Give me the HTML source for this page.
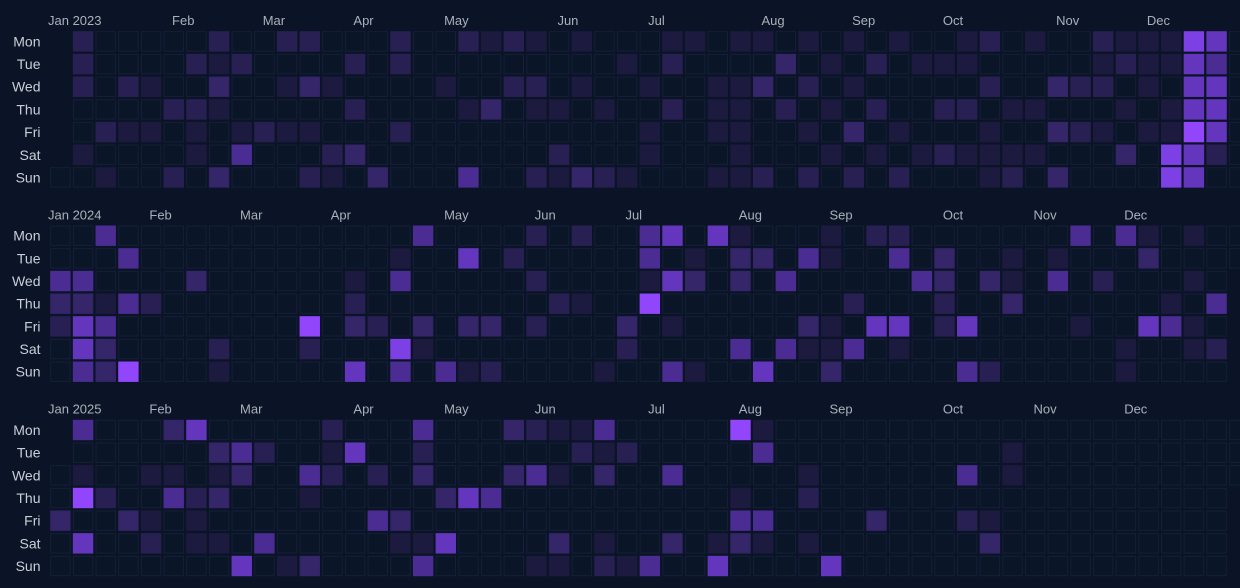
<!DOCTYPE html>
<html><head><meta charset="utf-8">
<style>
html,body{margin:0;padding:0;background:#0b1427;}
svg{display:block;}
text{font-family:"Liberation Sans",sans-serif;}
</style></head>
<body>
<svg id="chart" width="1240" height="588" viewBox="0 0 1240 588" xmlns="http://www.w3.org/2000/svg">
<rect x="0" y="0" width="1240" height="588" fill="#0b1427"/>
</svg>
<script>
const years = [2023, 2024, 2025];
const dayLabels = ["Mon","Tue","Wed","Thu","Fri","Sat","Sun"];
const monthLabels = ["Jan","Feb","Mar","Apr","May","Jun","Jul","Aug","Sep","Oct","Nov","Dec"];
// activity levels per weekday row (Mon..Sun), one digit per week column
const levels2023 = [
"02000002002200020021210100011011010101001201002111650",
"02000021200002020000000001020000301020111000001211540",
"02021003001310000100220100100113020100000200322010550",
"00000221000002000013011010020110201020022011000101550",
"00211010121100020000000000100110010301000100321011750",
"01000010400023000000002000100010001010121111000306520",
"00100203000210300040021321000112020202000120300006500"
];
const levels2024 = [
"00400000000000004000020200450510001022000000040410100",
"00040000000000010050200000401033041004030010100030000",
"44000030000001040000020000153030400000430310402000100",
"33142000000002000000002100700000000200020030000001040",
"25400000000703203033020003010000031055025000010054100",
"05300002000200061000000002000040411401000000000100120",
"04370001000005040412000010041005003000004200000100000"
];
const levels2025 = [
"04000350000020004000321140000071000000000000000000000",
"00000003420015002000000212000004000000000010000000000",
"01001101300420203000341030040000010000004010000000000",
"07200423000100000354000000000010020000000000000000000",
"30031010000000430000000000000044000030002100000000000",
"05002011040000011500003010030131010000000300000000000",
"00000000501300004000011021400500005000000000000000000"
];
const levelSets = [levels2023, levels2024, levels2025];
const palette = ["#0b1528","#1d1a3f","#282053","#352569","#4a2c92","#6436bd","#7d40e4","#9146fc"];

const svg = document.getElementById('chart');
const NS = "http://www.w3.org/2000/svg";
const X0 = 50.7, Y0 = 31.7, PITCH = 22.67, CELL = 19.4, YEAR_GAP = 194.3;
function xCol(c){ return X0 + c*PITCH; }
function yRow(yi, r){ return Y0 + yi*YEAR_GAP + r*PITCH; }

years.forEach((yr, yi) => {
  const g = document.createElementNS(NS, 'g');
  
  
  svg.appendChild(g);
  dayLabels.forEach((d, r) => {
    const t = document.createElementNS(NS, 'text');
    
    
    t.setAttribute('x', 40.5);
    t.setAttribute('y', yRow(yi, r) + CELL/2 + 5);
    t.setAttribute('text-anchor', 'end');
    t.setAttribute('font-size', '14');
    t.setAttribute('fill', '#c9ced6');
    t.textContent = d;
    g.appendChild(t);
  });
  const jan1 = new Date(Date.UTC(yr, 0, 1));
  const offset = (jan1.getUTCDay() + 6) % 7;
  monthLabels.forEach((m, mi) => {
    const first = new Date(Date.UTC(yr, mi, 1));
    const doy = Math.round((first - jan1) / 86400000);
    const col = Math.floor((doy + offset - 1) / 7);
    const t = document.createElementNS(NS, 'text');
    
    
    t.setAttribute('x', mi === 0 ? 48 : xCol(col) + 8);
    t.setAttribute('y', 25 + yi*YEAR_GAP);
    t.setAttribute('font-size', '13');
    t.setAttribute('fill', '#aab0ba');
    t.textContent = mi === 0 ? (m + ' ' + yr) : m;
    g.appendChild(t);
  });
  const lv = levelSets[yi];
  const days = ((yr % 4 === 0 && yr % 100 !== 0) || yr % 400 === 0) ? 366 : 365;
  for (let d = 0; d < days; d++) {
    const col = Math.floor((d + offset) / 7);
    const row = (d + offset) % 7;
    const v = parseInt(lv[row].charAt(col) || '0', 10);
    const rc = document.createElementNS(NS, 'rect');
    
    
    rc.setAttribute('x', xCol(col));
    rc.setAttribute('y', yRow(yi, row));
    rc.setAttribute('width', CELL);
    rc.setAttribute('height', CELL);
    rc.setAttribute('fill', palette[v]);
    rc.setAttribute('stroke', v === 0 ? '#142036' : palette[v]);
    rc.setAttribute('stroke-width', '1');
    g.appendChild(rc);
  }
});
</script>
</body></html>
